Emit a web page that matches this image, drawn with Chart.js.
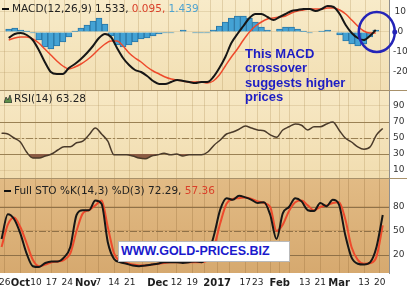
<!DOCTYPE html>
<html>
<head>
<meta charset="utf-8">
<script src="https://cdn.jsdelivr.net/npm/chart.js@4.4.0/dist/chart.umd.min.js"></script>
<style>
  body { margin: 0; width: 407px; height: 288px; overflow: hidden; background: #fff; position: relative; font-family: "DejaVu Sans", Verdana, sans-serif; }
  canvas { position: absolute; left: 0; display: block; }
  .title { position: absolute; font-size: 10.5px; line-height: 12px; color: #222; white-space: nowrap; }
  .dash { display: inline-block; width: 7px; height: 2px; background: #111; vertical-align: middle; margin-right: 3px; }
  .note { position: absolute; left: 245px; top: 47px; font: bold 13px/14.3px "Liberation Sans", Arial, sans-serif; color: #1d1dc4; }
  .site { position: absolute; left: 118px; top: 241px; width: 168px; height: 19px; padding-left: 2px; background: #fff; border: 1px solid #b9b9b9;
          font: bold 12.5px/19px "Liberation Sans", Arial, sans-serif; color: #1a1acc; }
</style>
</head>
<body>
<canvas id="macd" width="407" height="90" style="top:0"></canvas>
<canvas id="rsi" width="407" height="88" style="top:90px"></canvas>
<canvas id="sto" width="407" height="110" style="top:178px"></canvas>

<div class="title" style="left:2px;top:2px"><span class="dash"></span>MACD(12,26,9) 1.533, <span style="color:#d9402a">0.095,</span> <span style="color:#4fa3cf">1.439</span></div>
<div class="title" style="left:4px;top:92px"><svg width="8" height="8" style="vertical-align:middle;margin-right:2px"><polygon points="0,8 2,2 4,5 6,0 8,8" fill="#5c8f4a" stroke="#333" stroke-width="0.8"/></svg>RSI(14) 63.28</div>
<div class="title" style="left:4px;top:184px"><span class="dash"></span>Full STO %K(14,3) %D(3) 72.29, <span style="color:#d9402a">57.36</span></div>
<div class="note">This MACD<br>crossover<br>suggests higher<br>prices</div>
<div class="site">WWW.GOLD-PRICES.BIZ</div>

<script>
// one sample every second trading session, Sep 23 2016 .. Mar 21 2017
const sessions = ['Sep 23','Sep 27','Sep 29','Oct 3','Oct 5','Oct 7','Oct 11','Oct 13','Oct 17','Oct 19',
  'Oct 21','Oct 25','Oct 27','Oct 31','Nov 2','Nov 4','Nov 8','Nov 10','Nov 14','Nov 16',
  'Nov 18','Nov 22','Nov 25','Nov 29','Dec 1','Dec 5','Dec 7','Dec 9','Dec 13','Dec 15',
  'Dec 19','Dec 21','Dec 23','Dec 28','Dec 30','Jan 4','Jan 6','Jan 10','Jan 12','Jan 17',
  'Jan 19','Jan 23','Jan 25','Jan 27','Jan 31','Feb 2','Feb 6','Feb 8','Feb 10','Feb 14',
  'Feb 16','Feb 21','Feb 23','Feb 27','Mar 1','Mar 3','Mar 7','Mar 9','Mar 13','Mar 15',
  'Mar 17','Mar 21'];

const macdLine = [-3,-1,-0.5,-1.5,-4,-9,-15,-20,-21,-21,
  -18,-16,-13.5,-10.5,-7,-3,-1,-2.5,-8,-13,
  -16.5,-19,-20,-22,-24.5,-26,-26,-25,-24,-24.5,
  -25,-25.5,-25,-25,-22.5,-18,-12.5,-5.5,-1,3,
  7,9,9,7.5,6,7.5,9,10.5,11,11.5,
  11.5,10.5,11.5,13,12.5,9,3.5,-0.5,-3,-4,
  -2,1];
const signalLine = [-4,-3,-2.5,-2.5,-3.5,-5.5,-8.5,-11.5,-14.5,-17,
  -18.5,-17.5,-16,-14,-11.5,-8.5,-6,-4.5,-4.5,-7,
  -10.5,-13,-15,-17.5,-19.5,-21,-22.5,-23.5,-24,-24.5,
  -25,-25,-25,-25.5,-24.5,-21.5,-17,-12.5,-8.5,-4,
  0,3,5,6.5,7,7.5,8,9.5,10.5,11,
  11.5,11.5,11.5,12,12,11,9,6,3,0.5,
  -0.5,-0.5];
const histogram = [1.5,2,1,0.5,-0.5,-4,-7.5,-8.5,-7,-5,
  -2.5,0.5,2,3.5,5.5,7,4,-2,-6.5,-7.5,
  -6.5,-5,-3.5,-3,-2,-1,-0.5,-0.5,0,1,
  0,-0.5,-0.5,-0.5,1,3,5,7,8,8,
  7,5,2.5,1,0,1.5,2.5,2.5,1.5,0.5,
  -0.5,0,0.5,1,0,-1.5,-4.5,-6,-7,-6,
  -2.5,1];
const rsiValues = [56,55,50,45,32.5,25,25,27.5,30,35,
  39,39,44,46,54,62.5,55,46,29,29,
  29,27.5,25,24,27.5,29,31,29,30,27.5,
  29,29,29,32.5,41,47.5,55,57.5,61,65,
  62.5,60,59,54,51,60,64,67.5,66,60,
  64,64,67.5,70,60,50,45,39,36,39,
  54,62];
const stoK = [40,71,65,47,22,6,5,10,12,12,
  17,30,70,76,76,88,84,36,15,11,
  9,7,6,7,8,9,11,11,11,10,
  11,12,11,20,45,77,91,89,94,92,
  89,85,86,70,40,72,80,91,87,76,
  75,85,81,89,83,45,17,9,8,11,
  30,70];
const stoD = [30,58,67,55,35,14,6,8,11,12,
  14,22,50,72,76,82,88,55,22,12,
  10,8,7,7,8,9,10,11,11,11,
  11,11,11,14,30,60,84,90,91,92,
  90,87,85,80,50,58,75,86,88,82,
  76,80,82,85,86,65,30,14,9,10,
  18,57];

// x axis: trading-session index of each weekly grid line and its label
const tickDays = [1,6,11,16,21,27,31,36,41,45,50,56,61,65,69,73,78,82,86,89,92,97,102,108,111,116,121];
const tickLabels = ['26','Oct','10','17','24','Nov','7','14','21','','Dec','12','19','','2017','','17','23','','Feb','','13','21','Mar','','13','20'];
const monthLabels = ['Oct','Nov','Dec','2017','Feb','Mar'];

const macdTicks = [10,0,-10,-20];
const rsiTicks = [90,70,50,30,10];
const stoTicks = [80,50,20];
const rsiLevels = [70,30];
const stoLevels = [80,20];
const midLevel = [50];

const STEP = 2;
const FONT = '"DejaVu Sans", Verdana, sans-serif';
const toPoints = vals => vals.map((y, i) => ({ x: i * STEP, y }));

function xScale(showLabels, gridColor) {
  return {
    type: 'linear', min: -0.5, max: 124,
    grid: { color: gridColor, drawTicks: false },
    border: { display: false },
    ticks: {
      display: showLabels, padding: 4, autoSkip: false, maxRotation: 0, color: '#1e1e1e',
      callback: (v, i) => tickLabels[i],
      font: c => monthLabels.includes(tickLabels[c.index])
        ? { family: FONT, size: 10, weight: 'bold' }
        : { family: FONT, size: 9 }
    },
    afterBuildTicks: s => { s.ticks = tickDays.map(v => ({ value: v })); },
    afterFit: s => { s.height = showLabels ? 15 : 0; s.paddingLeft = 0; s.paddingRight = 0; }
  };
}

function yScale(min, max, ticks, gridColor) {
  return {
    position: 'right', min, max,
    grid: { color: gridColor, drawTicks: false },
    border: { color: '#8f8f8f' },
    ticks: { color: '#333', padding: 4, crossAlign: 'center', font: { family: FONT, size: 9 } },
    afterBuildTicks: s => { s.ticks = ticks.map(v => ({ value: v })); },
    afterFit: s => { s.width = 18; s.paddingTop = 0; s.paddingBottom = 0; }
  };
}

const panePlugin = {
  id: 'pane',
  beforeDraw(chart, args, opts) {
    const { ctx, chartArea: a } = chart;
    const g = ctx.createLinearGradient(0, a.top, 0, a.bottom);
    g.addColorStop(0, opts.top);
    g.addColorStop(1, opts.bottom);
    ctx.save();
    ctx.fillStyle = g;
    ctx.fillRect(a.left, a.top, a.right - a.left, a.bottom - a.top);
    ctx.restore();
  },
  beforeDatasetsDraw(chart, args, opts) {
    const { ctx, chartArea: a, scales: { y } } = chart;
    ctx.save();
    ctx.strokeStyle = opts.levelColor;
    ctx.lineWidth = 1;
    const hline = v => {
      const py = Math.round(y.getPixelForValue(v)) + 0.5;
      ctx.beginPath(); ctx.moveTo(a.left, py); ctx.lineTo(a.right, py); ctx.stroke();
    };
    (opts.solid || []).forEach(hline);
    ctx.setLineDash([7, 2, 2, 2]);
    (opts.dashed || []).forEach(hline);
    ctx.restore();
  },
  afterDraw(chart, args, opts) {
    if (!opts.border) return;
    const { ctx, chartArea: a } = chart;
    ctx.save();
    ctx.strokeStyle = opts.border;
    ctx.beginPath(); ctx.moveTo(0, a.top + 0.5); ctx.lineTo(chart.width, a.top + 0.5); ctx.stroke();
    ctx.restore();
  }
};

// blue ring round the last MACD / signal crossover
const ringPlugin = {
  id: 'ring',
  afterDraw(chart) {
    const { ctx, scales: { x, y } } = chart;
    const cx = x.getPixelForValue((macdLine.length - 1) * STEP) + 1;
    const cy = y.getPixelForValue(0);
    ctx.save();
    ctx.strokeStyle = '#2424b8';
    ctx.lineWidth = 2.5;
    ctx.beginPath(); ctx.ellipse(cx, cy, 18, 20, 0, 0, Math.PI * 2); ctx.stroke();
    ctx.fillStyle = '#2424b8';
    ctx.beginPath(); ctx.arc(cx + 18, cy, 2.5, 0, Math.PI * 2); ctx.fill();
    ctx.restore();
  }
};

const common = {
  responsive: false, animation: false,
  layout: { padding: 0 },
  elements: { point: { radius: 0 }, line: { cubicInterpolationMode: 'monotone' } },
};
const noUi = { legend: { display: false }, tooltip: { enabled: false } };

new Chart(document.getElementById('macd'), {
  type: 'line',
  data: {
    datasets: [
      { data: toPoints(macdLine), borderColor: '#161616', borderWidth: 2 },
      { data: toPoints(signalLine), borderColor: '#ee4a2c', borderWidth: 1.5 },
      { type: 'bar', data: toPoints(histogram), backgroundColor: '#44a2d4', borderColor: '#2a77a6',
        borderWidth: 1, barPercentage: 1, categoryPercentage: 1 }
    ]
  },
  options: {
    ...common,
    scales: {
      x: xScale(false, 'rgba(170,135,80,0.28)'),
      y: yScale(-29, 16, macdTicks, 'rgba(170,135,80,0.22)')
    },
    plugins: { ...noUi, pane: { top: '#f8ebc9', bottom: '#f2dfb3', levelColor: 'rgba(0,0,0,0)' } }
  },
  plugins: [panePlugin, ringPlugin]
});

new Chart(document.getElementById('rsi'), {
  type: 'line',
  data: {
    datasets: [
      { data: toPoints(rsiValues), borderColor: '#4a3a2a', borderWidth: 1.5,
        fill: { target: { value: 30 }, above: 'rgba(0,0,0,0)', below: '#8b5b43' } }
    ]
  },
  options: {
    ...common,
    scales: {
      x: xScale(false, 'rgba(170,135,80,0.28)'),
      y: yScale(0, 110, rsiTicks, 'rgba(170,135,80,0.22)')
    },
    plugins: { ...noUi, pane: { top: '#f7e8c4', bottom: '#f1ddb0', levelColor: '#9a8154',
      solid: rsiLevels, dashed: midLevel, border: '#a8916a' } }
  },
  plugins: [panePlugin]
});

new Chart(document.getElementById('sto'), {
  type: 'line',
  data: {
    datasets: [
      { data: toPoints(stoK), borderColor: '#161616', borderWidth: 2 },
      { data: toPoints(stoD), borderColor: '#ee4a2c', borderWidth: 2 }
    ]
  },
  options: {
    ...common,
    scales: {
      x: xScale(true, 'rgba(140,100,50,0.28)'),
      y: yScale(-2.5, 116.25, stoTicks, 'rgba(140,100,50,0.2)')
    },
    plugins: { ...noUi, pane: { top: '#e2bb85', bottom: '#d6a96f', levelColor: '#8f7148',
      solid: stoLevels, dashed: midLevel, border: '#a8916a' } }
  },
  plugins: [panePlugin]
});
</script>
</body>
</html>
